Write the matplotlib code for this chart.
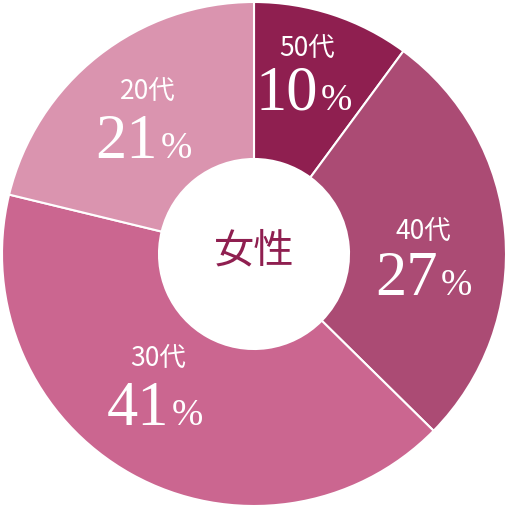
import matplotlib
matplotlib.use('Agg')
import matplotlib.pyplot as plt

ages = ['50代', '40代', '30代', '20代']
shares = [10, 27, 41, 21]
colors = ['#8F1F50', '#AB4B74', '#CB6690', '#DA94AF']
center_label = '女性'

# layout (pixel positions, top-left origin)
age_pos = [(307, 48), (423, 231), (158, 358), (148, 91)]
pct_anchor = [(318, 110), (438, 295), (169, 425), (158, 158)]

W = 508
fig = plt.figure(figsize=(5.08, 5.08), dpi=100)
ax = fig.add_axes([0, 0, 1, 1])
ax.pie(shares, colors=colors, startangle=90, counterclock=False,
       center=(254, 254), radius=252, frame=True,
       wedgeprops=dict(width=157, edgecolor='white', linewidth=1.5))
ax.set_xlim(0, W)
ax.set_ylim(0, W)
ax.set_aspect('equal')
ax.axis('off')

sans = ['Noto Sans CJK JP', 'DejaVu Sans']
serif = ['Liberation Serif', 'DejaVu Serif']

for age, v, (lx, ly), (px, py) in zip(ages, shares, age_pos, pct_anchor):
    ax.text(lx, W - ly, age, family=sans, fontsize=19, color='white',
            ha='center', va='center')
    ax.text(px, W - py, str(v), family=serif, fontsize=45, color='white',
            ha='right', va='baseline')
    ax.text(px + 3, W - py, '%', family=serif, fontsize=27, color='white',
            ha='left', va='baseline')

ax.text(254, W - 251, center_label, family=sans, fontsize=29, color='#8F1F50',
        ha='center', va='center')

fig.savefig('out.png', dpi=100)
